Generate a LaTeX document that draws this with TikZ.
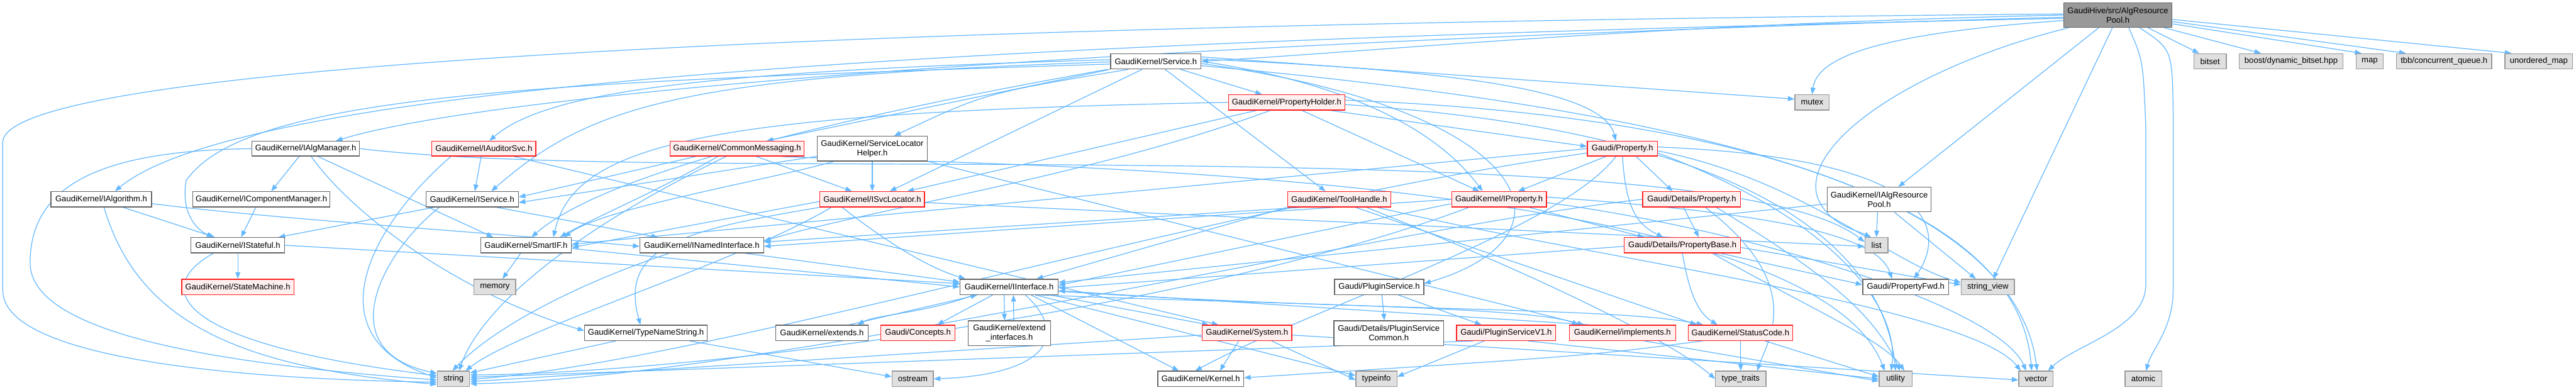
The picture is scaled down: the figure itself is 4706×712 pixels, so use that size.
\documentclass[tikz,border=0pt]{standalone}
\usepackage{fontspec}
\setmainfont{Liberation Sans}
\usetikzlibrary{arrows.meta}
\pgfdeclarelayer{bg}
\pgfsetlayers{bg,main}
\definecolor{edgeblue}{HTML}{63B8FF}
\definecolor{redborder}{HTML}{FF2020}
\definecolor{redfill}{HTML}{FFF0F0}
\definecolor{grayfill}{HTML}{E0E0E0}
\definecolor{grayborder}{HTML}{999999}
\definecolor{boxborder}{HTML}{666666}
\definecolor{rootfill}{HTML}{999999}
\tikzset{
  basebox/.style={rectangle, inner sep=0pt, align=center, line width=1.5pt,
    font=\fontsize{15}{17}\selectfont, text=black},
  wbox/.style={basebox, draw=boxborder, fill=white},
  rbox/.style={basebox, draw=redborder, fill=redfill},
  gbox/.style={basebox, draw=grayborder, fill=grayfill},
  rootbox/.style={basebox, draw=boxborder, fill=rootfill},
  dep/.style={draw=edgeblue, line width=1.4pt, -{Triangle[length=12pt,width=9pt]}}
}
\newcommand\mknode[7]{\node[#2, minimum width={(#4)-(#3)}, minimum height={(#6)-(#5)}] (#1) at ({((#3)+(#4))/2},{((#5)+(#6))/2}) {#7};}
\begin{document}
\begin{tikzpicture}[x=1pt,y=-1pt]
\useasboundingbox (0,0) rectangle (4706,712);
\begin{pgfonlayer}{bg}
\fill[white] (0,0) rectangle (4706,712);
\end{pgfonlayer}
% nodes
\mknode{root}{rootbox}{3770}{3968}{5}{50}{GaudiHive/src/AlgResource\\Pool.h}
\mknode{service}{wbox}{2029}{2194}{98}{126}{GaudiKernel/Service.h}
\mknode{bitset}{gbox}{4008}{4067}{98}{126}{bitset}
\mknode{boost}{gbox}{4091}{4280}{98}{126}{boost/dynamic\_bitset.hpp}
\mknode{map}{gbox}{4304}{4354}{98}{126}{map}
\mknode{tbb}{gbox}{4378}{4552}{98}{126}{tbb/concurrent\_queue.h}
\mknode{umap}{gbox}{4576}{4700}{98}{126}{unordered\_map}
\mknode{propholder}{rbox}{2244}{2457}{173}{201}{GaudiKernel/PropertyHolder.h}
\mknode{mutex}{gbox}{3279}{3342}{173}{201}{mutex}
\mknode{ialgmgr}{wbox}{460}{657}{258}{285}{GaudiKernel/IAlgManager.h}
\mknode{iauditor}{rbox}{789}{979}{258}{285}{GaudiKernel/IAuditorSvc.h}
\mknode{commsg}{rbox}{1224}{1469}{258}{285}{GaudiKernel/CommonMessaging.h}
\mknode{slh}{wbox}{1493}{1694}{249}{294}{GaudiKernel/ServiceLocator\\Helper.h}
\mknode{property}{rbox}{2900}{3028}{258}{285}{Gaudi/Property.h}
\mknode{ialgres}{wbox}{3338}{3528}{342}{387}{GaudiKernel/IAlgResource\\Pool.h}
\mknode{ialgo}{wbox}{93}{277}{350}{378}{GaudiKernel/IAlgorithm.h}
\mknode{icompmgr}{wbox}{352}{603}{350}{378}{GaudiKernel/IComponentManager.h}
\mknode{iservice}{wbox}{778}{947}{350}{378}{GaudiKernel/IService.h}
\mknode{isvcloc}{rbox}{1498}{1689}{350}{378}{GaudiKernel/ISvcLocator.h}
\mknode{toolhandle}{rbox}{2352}{2541}{350}{378}{GaudiKernel/ToolHandle.h}
\mknode{iproperty}{rbox}{2652}{2825}{350}{378}{GaudiKernel/IProperty.h}
\mknode{detprop}{rbox}{3001}{3180}{350}{378}{Gaudi/Details/Property.h}
\mknode{istateful}{wbox}{349}{520}{434}{462}{GaudiKernel/IStateful.h}
\mknode{smartif}{wbox}{878}{1044}{434}{462}{GaudiKernel/SmartIF.h}
\mknode{inamed}{wbox}{1169}{1395}{434}{462}{GaudiKernel/INamedInterface.h}
\mknode{propbase}{rbox}{2967}{3180}{434}{462}{Gaudi/Details/PropertyBase.h}
\mknode{list}{gbox}{3407}{3449}{434}{462}{list}
\mknode{statemachine}{rbox}{332}{537}{510}{538}{GaudiKernel/StateMachine.h}
\mknode{memory}{gbox}{866}{942}{510}{538}{memory}
\mknode{iinterface}{wbox}{1754}{1933}{510}{538}{GaudiKernel/IInterface.h}
\mknode{pluginsvc}{wbox}{2438}{2601}{510}{538}{Gaudi/PluginService.h}
\mknode{propfwd}{wbox}{3403}{3560}{510}{538}{Gaudi/PropertyFwd.h}
\mknode{strview}{gbox}{3583}{3680}{510}{538}{string\_view}
\mknode{typename}{wbox}{1068}{1292}{594}{622}{GaudiKernel/TypeNameString.h}
\mknode{extends}{wbox}{1417}{1586}{594}{622}{GaudiKernel/extends.h}
\mknode{concepts}{rbox}{1609}{1745}{594}{622}{Gaudi/Concepts.h}
\mknode{extif}{wbox}{1769}{1919}{586}{631}{GaudiKernel/extend\\\_interfaces.h}
\mknode{system}{rbox}{2196}{2360}{594}{622}{GaudiKernel/System.h}
\mknode{psc}{wbox}{2437}{2637}{586}{631}{Gaudi/Details/PluginService\\Common.h}
\mknode{psv1}{rbox}{2661}{2842}{594}{622}{Gaudi/PluginServiceV1.h}
\mknode{implements}{rbox}{2867}{3061}{594}{622}{GaudiKernel/implements.h}
\mknode{statuscode}{rbox}{3084}{3275}{594}{622}{GaudiKernel/StatusCode.h}
\mknode{string}{gbox}{799}{858}{678}{706}{string}
\mknode{ostream}{gbox}{1630}{1705}{678}{706}{ostream}
\mknode{kernel}{wbox}{2115}{2272}{678}{706}{GaudiKernel/Kernel.h}
\mknode{typeinfo}{gbox}{2477}{2552}{678}{706}{typeinfo}
\mknode{typetraits}{gbox}{3134}{3226}{678}{706}{type\_traits}
\mknode{utility}{gbox}{3433}{3493}{678}{706}{utility}
\mknode{vector}{gbox}{3688}{3751}{678}{706}{vector}
\mknode{atomic}{gbox}{3882}{3949}{678}{706}{atomic}
\begin{pgfonlayer}{bg}
% root
\draw[dep] (root.west) .. controls (3000,45) and (2500,95) .. (service.east);
\draw[dep] ([yshift=-4pt]root.west) .. controls (2000,80) and (900,170) .. ([xshift=55pt]ialgmgr.north);
\draw[dep] ([yshift=-6pt]root.west) .. controls (1800,75) and (450,150) .. ([xshift=25pt]ialgo.north);
\draw[dep] ([yshift=2pt]root.west) .. controls (1500,45) and (5,120) .. (5,260) -- (5,530) .. controls (5,650) and (400,692) .. ([yshift=-6pt]string.west);
\draw[dep] ([yshift=-10pt]root.west) .. controls (3450,60) and (3320,100) .. (mutex.north);
\draw[dep] ([xshift=-90pt]root.south) .. controls (3500,120) and (3290,260) .. (3320,360) .. controls (3340,410) and (3390,420) .. ([xshift=-10pt]list.north);
\draw[dep] ([xshift=-35pt]root.south) -- ([xshift=35pt]ialgres.north);
\draw[dep] ([xshift=-10pt]root.south) -- ([xshift=10pt]strview.north);
\draw[dep] ([xshift=20pt]root.south) .. controls (3915,110) .. (3920,230) -- (3920,520) .. controls (3920,600) and (3790,630) .. ([xshift=22pt]vector.north);
\draw[dep] ([xshift=40pt]root.south) .. controls (3968,90) .. (3970,200) -- (3970,530) .. controls (3970,600) and (3930,640) .. ([xshift=5pt]atomic.north);
\draw[dep] ([xshift=55pt]root.south) -- ([xshift=-20pt]bitset.north);
\draw[dep] ([xshift=85pt]root.south) -- ([xshift=-55pt]boost.north);
\draw[dep] ([yshift=-16pt]root.east) -- ([xshift=-15pt]map.north);
\draw[dep] ([yshift=-12pt]root.east) -- ([xshift=-70pt]tbb.north);
\draw[dep] ([yshift=-8pt]root.east) -- ([xshift=-50pt]umap.north);
% service
\draw[dep] ([yshift=3pt]service.west) .. controls (1300,130) and (1000,165) .. ([xshift=10pt]iauditor.north);
\draw[dep] ([yshift=-1pt]service.west) .. controls (1250,140) and (1080,190) .. ([xshift=35pt]iservice.north);
\draw[dep] ([yshift=-5pt]service.west) .. controls (1000,150) and (450,170) .. (340,330) .. controls (330,390) and (360,420) .. ([xshift=-45pt]istateful.north);
\draw[dep] (service.south west) -- ([xshift=54pt]commsg.north);
\draw[dep] ([xshift=-50pt]service.south) .. controls (1800,170) .. ([xshift=40pt]slh.north);
\draw[dep] ([xshift=-25pt]service.south) -- ([xshift=32pt]isvcloc.north);
\draw[dep] ([xshift=45pt]service.south) -- ([xshift=-45pt]propholder.north);
\draw[dep] ([xshift=17pt]service.south) -- ([xshift=-25pt]toolhandle.north);
\draw[dep] ([yshift=4pt]service.east) .. controls (2700,130) and (2930,170) .. ([xshift=-12pt]property.north);
\draw[dep] (service.east) .. controls (2450,150) and (2620,230) .. ([xshift=-30pt]iproperty.north);
\draw[dep] ([yshift=-4pt]service.east) .. controls (2800,200) and (2900,430) .. ([yshift=6pt]pluginsvc.east);
\draw[dep] ([yshift=8pt]service.east) -- ([yshift=6pt]mutex.west);
\draw[dep] ([yshift=-8pt]service.east) .. controls (3300,220) and (3690,400) .. ([xshift=-8pt]vector.north);
\draw[dep] ([xshift=-5pt]service.south west) .. controls (1500,220) and (1100,320) .. ([xshift=10pt]smartif.north);
% propholder
\draw[dep] ([xshift=80pt]propholder.south) -- ([yshift=4pt]property.west);
\draw[dep] ([xshift=28pt]propholder.south) -- ([xshift=-36pt]iproperty.north);
\draw[dep] ([xshift=-55pt]propholder.south) -- ([xshift=64pt]isvcloc.north);
\draw[dep] ([xshift=-30pt]propholder.south) .. controls (2000,320) and (1600,380) .. ([yshift=8pt]inamed.east);
\draw[dep] (propholder.west) .. controls (1300,205) and (1050,260) .. ([xshift=50pt]smartif.north);
\draw[dep] ([yshift=4pt]propholder.east) .. controls (3300,215) and (3690,420) .. ([xshift=2pt]vector.north);
\draw[dep] ([yshift=-4pt]propholder.east) .. controls (3200,240) and (3440,450) .. (utility.north);
% ialgmgr
\draw[dep] (ialgmgr.west) .. controls (200,275) and (55,330) .. (55,480) .. controls (55,610) and (400,665) .. ([yshift=-2pt]string.west);
\draw[dep] ([xshift=-12pt]ialgmgr.south) -- ([xshift=18pt]icompmgr.north);
\draw[dep] ([xshift=10pt]ialgmgr.south) .. controls (650,400) and (850,540) .. ([yshift=4pt]typename.west);
\draw[dep] ([xshift=22pt]ialgmgr.south) -- ([xshift=-60pt]smartif.north);
\draw[dep] (ialgmgr.east) .. controls (900,300) and (1300,298) .. (1700,300) .. controls (2600,302) and (3250,320) .. ([yshift=6pt]list.west);
% ialgo
\draw[dep] ([xshift=40pt]ialgo.south) -- ([xshift=-42pt]istateful.north);
\draw[dep] ([xshift=5pt]ialgo.south) .. controls (250,580) and (420,670) .. ([yshift=-10pt]string.west);
\draw[dep] ([yshift=-8pt]ialgo.east) .. controls (500,400) and (900,425) .. ([yshift=-2pt]inamed.west);
% icompmgr
\draw[dep] ([xshift=-10pt]icompmgr.south) -- ([xshift=6pt]istateful.north);
% iservice
\draw[dep] ([xshift=-70pt]iservice.south) -- ([xshift=-12pt]istateful.north east);
\draw[dep] ([xshift=45pt]iservice.south) -- ([xshift=-80pt]inamed.north);
\draw[dep] ([xshift=-60pt]iservice.south) .. controls (700,460) and (600,640) .. ([yshift=10pt]string.west);
% iauditor
\draw[dep] ([xshift=-5pt]iauditor.south) -- ([xshift=5pt]iservice.north);
\draw[dep] ([xshift=-60pt]iauditor.south) .. controls (690,400) and (560,610) .. ([yshift=2pt]string.west);
\draw[dep] ([xshift=55pt]iauditor.south) -- ([xshift=-52pt]system.north);
% commsg
\draw[dep] ([xshift=-75pt]commsg.south) -- ([yshift=4pt]iservice.east);
\draw[dep] ([xshift=35pt]commsg.south) -- ([xshift=-37pt]isvcloc.north);
\draw[dep] ([xshift=-35pt]commsg.south) .. controls (1200,350) and (1080,400) .. ([xshift=62pt]smartif.north);
\draw[dep] ([xshift=-20pt]commsg.south) .. controls (1050,420) and (880,560) .. ([xshift=10pt]string.north);
\draw[dep] ([xshift=80pt]commsg.south) .. controls (1700,300) and (3300,300) .. ([xshift=-20pt]utility.north);
% slh
\draw[dep] (slh.south) -- (isvcloc.north);
\draw[dep] ([yshift=-14pt]slh.west) -- ([yshift=-6pt]iservice.east);
\draw[dep] ([xshift=-70pt]slh.south) .. controls (1400,330) and (1100,380) .. ([xshift=70pt]smartif.north);
\draw[dep] (slh.south east) -- ([xshift=-70pt]implements.north);
% isvcloc
\draw[dep] ([xshift=-55pt]isvcloc.south) .. controls (1630,450) and (1700,490) .. ([xshift=-80pt]iinterface.north);
\draw[dep] ([yshift=-6pt]isvcloc.east) -- ([yshift=-2pt]list.west);
\draw[dep] ([yshift=-4pt]isvcloc.west) -- ([yshift=-4pt]smartif.east);
\draw[dep] (isvcloc.south west) .. controls (1250,420) and (1130,450) .. ([xshift=-10pt]typename.north);
\draw[dep] ([xshift=-75pt]isvcloc.south) .. controls (1350,480) and (950,600) .. ([xshift=22pt]string.north);
% toolhandle
\draw[dep] ([xshift=-70pt]toolhandle.south) -- ([yshift=6pt]inamed.east);
\draw[dep] (toolhandle.south west) -- ([xshift=50pt]iinterface.north);
\draw[dep] ([xshift=30pt]toolhandle.south) -- ([xshift=-80pt]statuscode.north);
\draw[dep] ([xshift=70pt]toolhandle.south) .. controls (2900,470) and (3600,560) .. ([xshift=-28pt]vector.north);
\draw[dep] ([xshift=50pt]toolhandle.south) .. controls (2800,500) and (3050,620) .. (typetraits.west);
% iproperty
\draw[dep] ([xshift=55pt]iproperty.south) -- ([xshift=-70pt]propbase.north);
\draw[dep] (iproperty.west) -- ([yshift=-2pt]inamed.east);
\draw[dep] ([yshift=-8pt]iproperty.west) -- ([yshift=3pt]iinterface.east);
\draw[dep] ([xshift=-55pt]iproperty.south) .. controls (2200,560) and (1300,680) .. ([yshift=7pt]string.east);
\draw[dep] ([yshift=-6pt]iproperty.east) .. controls (3200,420) and (3650,560) .. ([xshift=-18pt]vector.north);
\draw[dep] ([yshift=4pt]iproperty.east) .. controls (3250,390) and (3430,430) .. ([xshift=-25pt]propfwd.north);
% property
\draw[dep] ([xshift=25pt]property.south) -- ([xshift=-35pt]detprop.north);
\draw[dep] ([xshift=-30pt]property.south) -- ([xshift=35pt]iproperty.north);
\draw[dep] (property.south) .. controls (2970,380) and (2990,410) .. ([xshift=-35pt]propbase.north);
\draw[dep] (property.west) -- ([yshift=2pt]smartif.east);
\draw[dep] ([xshift=-12pt]property.south) .. controls (2850,420) and (2400,560) .. ([xshift=-10pt]kernel.north);
\draw[dep] ([yshift=-8pt]property.west) .. controls (2200,380) and (1300,660) .. ([yshift=-1pt]string.east);
\draw[dep] ([yshift=3pt]property.east) .. controls (3560,290) and (3550,430) .. ([xshift=15pt]propfwd.north);
\draw[dep] ([yshift=-4pt]property.east) .. controls (3300,330) and (3450,480) .. ([yshift=8pt]strview.west);
\draw[dep] ([yshift=-8pt]property.east) .. controls (3350,400) and (3470,560) .. ([xshift=-8pt]utility.north);
% detprop
\draw[dep] ([xshift=-15pt]detprop.south) -- ([xshift=30pt]propbase.north);
\draw[dep] (detprop.west) .. controls (2500,420) and (1400,690) .. ([yshift=-9pt]string.east);
\draw[dep] ([xshift=45pt]detprop.south) .. controls (3300,480) and (3420,560) .. ([xshift=8pt]utility.north);
\draw[dep] ([xshift=25pt]detprop.south) .. controls (3300,520) and (3230,620) .. ([xshift=30pt]typetraits.north);
% propbase
\draw[dep] ([xshift=70pt]propbase.south) -- ([yshift=4pt]propfwd.west);
\draw[dep] ([yshift=-4pt]propbase.east) -- ([yshift=4pt]strview.west);
\draw[dep] (propbase.south) .. controls (3085,530) and (3100,570) .. ([xshift=-42pt]statuscode.north);
\draw[dep] ([yshift=-2pt]propbase.west) -- ([yshift=-2pt]iinterface.east);
\draw[dep] ([xshift=55pt]propbase.south) .. controls (3300,560) and (3440,620) .. ([xshift=16pt]utility.north);
% ialgres
\draw[dep] ([xshift=-3pt]ialgres.south) -- (list.north);
\draw[dep] ([xshift=28pt]ialgres.south) -- ([xshift=-22pt]strview.north);
\draw[dep] ([yshift=-8pt]ialgres.west) -- ([yshift=8pt]iinterface.east);
% istateful
\draw[dep] (istateful.south) -- (statemachine.north);
\draw[dep] ([xshift=-45pt]istateful.south) .. controls (270,530) and (330,630) .. ([yshift=6pt]string.west);
\draw[dep] (istateful.east) -- ([yshift=6pt]iinterface.west);
% smartif
\draw[dep] ([xshift=-10pt]smartif.south) -- ([xshift=14pt]memory.north);
\draw[dep] ([yshift=-6pt]smartif.east) -- (iinterface.west);
% inamed
\draw[dep] ([xshift=80pt]inamed.south) -- ([yshift=9pt]iinterface.west);
\draw[dep] ([xshift=-60pt]inamed.south) .. controls (1050,520) and (900,600) .. ([xshift=-2pt]string.north);
% typename
\draw[dep] ([xshift=-55pt]typename.south) -- ([yshift=11pt]string.east);
\draw[dep] ([xshift=80pt]typename.south) -- ([yshift=4pt]ostream.west);
% iinterface
\draw[dep] ([xshift=-30pt]iinterface.south) -- ([xshift=35pt]concepts.north);
\draw[dep] ([xshift=-9pt]iinterface.south) -- ([xshift=-9pt]extif.north);
\draw[dep] ([xshift=8pt]extif.north) -- ([xshift=8pt]iinterface.south);
\draw[dep] ([xshift=30pt]iinterface.south) .. controls (1960,620) and (1900,685) .. (ostream.east);
\draw[dep] ([xshift=40pt]iinterface.south) -- ([xshift=-40pt]kernel.north);
\draw[dep] ([xshift=-15pt]iinterface.south east) -- ([xshift=-70pt]system.north);
\draw[dep] ([xshift=48pt]iinterface.south) -- ([yshift=6pt]typeinfo.west);
\draw[dep] ([yshift=-8pt]iinterface.east) .. controls (2500,570) and (2950,560) .. ([xshift=-68pt]statuscode.north);
\draw[dep] ([xshift=-65pt]iinterface.south) .. controls (1700,570) and (1600,575) .. ([xshift=65pt]extends.north);
\draw[dep] ([xshift=50pt]extends.north) -- ([xshift=-58pt]iinterface.south);
\draw[dep] ([xshift=55pt]iinterface.south) .. controls (2300,555) and (2800,560) .. ([xshift=-80pt]implements.north);
\draw[dep] ([xshift=-60pt]implements.north) -- ([yshift=-7pt]iinterface.east);
% system
\draw[dep] ([xshift=-15pt]system.south) -- ([xshift=35pt]kernel.north);
\draw[dep] ([yshift=-4pt]system.west) -- ([yshift=-5pt]string.east);
\draw[dep] ([xshift=45pt]system.south) -- ([yshift=-2pt]typeinfo.west);
\draw[dep] ([yshift=-4pt]system.east) -- ([yshift=-2pt]vector.west);
% statuscode
\draw[dep] (statuscode.south) -- (typetraits.north);
\draw[dep] ([xshift=45pt]statuscode.south) -- ([yshift=4pt]utility.west);
\draw[dep] ([xshift=-70pt]statuscode.south) .. controls (2900,650) .. ([yshift=2pt]kernel.east);
% plugin service
\draw[dep] ([xshift=5pt]pluginsvc.south) -- ([xshift=-8pt]psc.north);
\draw[dep] ([xshift=35pt]pluginsvc.south) -- ([xshift=-45pt]psv1.north);
\draw[dep] ([xshift=-40pt]psv1.south) -- ([yshift=4pt]typeinfo.east);
\draw[dep] ([xshift=-60pt]psv1.south) -- ([yshift=3pt]string.east);
\draw[dep] ([xshift=40pt]psv1.south) -- (utility.west);
% implements
\draw[dep] ([xshift=40pt]implements.south) -- ([yshift=-4pt]utility.west);
\end{pgfonlayer}
\end{tikzpicture}
\end{document}
